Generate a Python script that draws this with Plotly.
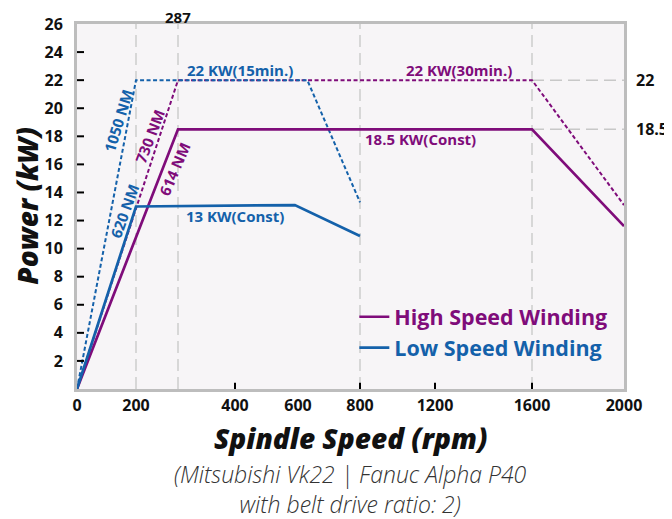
import numpy as np
import plotly.graph_objects as go

# ---------------- data ----------------
HIGH_CONST_RPM = [0, 287, 1600, 2000]
HIGH_CONST_KW = [0, 18.5, 18.5, 11.6]
HIGH_30MIN_RPM = [0, 287, 1600, 2000]
HIGH_30MIN_KW = [0, 22, 22, 13.1]
LOW_CONST_RPM = [0, 200, 590, 800]
LOW_CONST_KW = [0, 13, 13.1, 10.9]
LOW_15MIN_RPM = [0, 200, 630, 800]
LOW_15MIN_KW = [0, 22, 22, 13.3]

X_TICK_LABELS = [0, 200, 400, 600, 800, 1200, 1600, 2000]
X_TICK_MARKS = [400, 800, 1200, 1600]
X_GRID = [200, 287, 800, 1600]
Y_TICK_LABELS = [2, 4, 6, 8, 10, 12, 14, 16, 18, 20, 22, 24, 26]
Y_TICK_MARKS = [2, 4, 6, 8, 10, 12, 14, 16, 18, 20, 22, 24]
REF_LEVELS = [22, 18.5]

# the source chart uses a non-uniform speed scale
SCALE_RPM = [0, 200, 287, 400, 600, 800, 1200, 1600, 2000]
SCALE_POS = [0, 59, 101, 158, 221, 283, 358, 455, 547]


def sx(v):
    return np.interp(v, SCALE_RPM, SCALE_POS)


PURPLE = "#7F0C7A"
BLUE = "#1461AA"
FONT = "Open Sans"

fig = go.Figure()

fig.add_trace(go.Scatter(x=sx(HIGH_30MIN_RPM), y=HIGH_30MIN_KW, mode="lines",
                         line=dict(color=PURPLE, width=2, dash="4px,2.5px"),
                         showlegend=False, hoverinfo="skip"))
fig.add_trace(go.Scatter(x=sx(LOW_15MIN_RPM), y=LOW_15MIN_KW, mode="lines",
                         line=dict(color=BLUE, width=2, dash="4px,2.5px"),
                         showlegend=False, hoverinfo="skip"))
fig.add_trace(go.Scatter(x=sx(HIGH_CONST_RPM), y=HIGH_CONST_KW, mode="lines",
                         line=dict(color=PURPLE, width=2.7),
                         name=f"<span style='color:{PURPLE}'>High Speed Winding</span>"))
fig.add_trace(go.Scatter(x=sx(LOW_CONST_RPM), y=LOW_CONST_KW, mode="lines",
                         line=dict(color=BLUE, width=2.7),
                         name=f"<span style='color:{BLUE}'>Low Speed Winding</span>"))

shapes = []
for g in X_GRID:
    shapes.append(dict(type="line", xref="x", yref="y", x0=sx(g), x1=sx(g), y0=0, y1=26,
                       line=dict(color="#CDCDCD", width=1.5, dash="12px,6px"), layer="below"))
for lv in REF_LEVELS:
    shapes.append(dict(type="line", xref="x", yref="y", x0=sx(1600), x1=sx(2000), y0=lv, y1=lv,
                       line=dict(color="#C8C8C8", width=1.5, dash="12px,6px"), layer="below"))
for t in X_TICK_MARKS:
    shapes.append(dict(type="line", xref="x", yref="y", x0=sx(t), x1=sx(t), y0=0, y1=0.45,
                       line=dict(color="black", width=2)))
for t in Y_TICK_MARKS:
    shapes.append(dict(type="line", xref="x", yref="y", x0=0, x1=7, y0=t, y1=t,
                       line=dict(color="black", width=2)))

ann = []
bold = dict(family=FONT, weight="bold")


def label(text, rpm, kw, color, size=15, angle=0):
    ann.append(dict(text=text, x=sx(rpm), y=kw, xref="x", yref="y", showarrow=False,
                    xanchor="center", yanchor="middle",
                    textangle=angle, font=dict(size=size, color=color, **bold)))


label("22 KW(15min.)", 416, 22.75, BLUE)
label("22 KW(30min.)", 1299, 22.75, PURPLE)
label("18.5 KW(Const)", 1120, 17.8, PURPLE)
label("13 KW(Const)", 400, 12.35, BLUE)
label("1050 NM", 139, 19.1, BLUE, angle=-73)
label("730 NM", 229, 18.0, PURPLE, angle=-69)
label("620 NM", 160, 12.7, BLUE, angle=-70)
label("614 NM", 279, 15.7, PURPLE, angle=-67)

ann.append(dict(text="287", x=sx(287), y=1, xref="x", yref="paper", xanchor="center",
                yanchor="middle", yshift=7, showarrow=False,
                font=dict(size=15, color="#111", **bold)))
for lv in REF_LEVELS:
    ann.append(dict(text=f"{lv:g}", x=1, y=lv, xref="paper", yref="y", xanchor="left",
                    xshift=10, showarrow=False, font=dict(size=16, color="#111", **bold)))

ann.append(dict(text="Spindle Speed (rpm)", x=0.5, y=-0.134, xref="paper", yref="paper",
                showarrow=False, xanchor="center", yanchor="middle",
                font=dict(family=FONT, size=28, color="#111", weight=800, style="italic")))
SUBTITLE = "(Mitsubishi Vk22 | Fanuc Alpha P40<br>with belt drive ratio: 2)"
ann.append(dict(text=SUBTITLE, x=0.5, y=-0.274, xref="paper", yref="paper",
                xanchor="center", yanchor="middle", showarrow=False,
                font=dict(family=FONT, size=23, color="#333", weight=300, style="italic")))
ann.append(dict(text="Power (kW)", x=-0.091, y=0.503, xref="paper", yref="paper",
                showarrow=False, textangle=-90, xanchor="center", yanchor="middle",
                font=dict(family=FONT, size=28, color="#111", weight=800, style="italic")))

# page body has an 8px margin: size the figure so the visible window matches
fig.update_layout(
    template="none",
    width=664, height=511,
    margin=dict(l=69, r=48, t=16, b=130, pad=0, autoexpand=False),
    paper_bgcolor="white",
    plot_bgcolor="#F7F5F7",
    font=dict(family=FONT, color="#111"),
    shapes=shapes,
    annotations=ann,
    showlegend=True,
    legend=dict(x=0.507, y=0.254, xanchor="left", yanchor="top",
                bgcolor="rgba(0,0,0,0)", font=dict(size=21.5, family=FONT, weight="bold"),
                tracegroupgap=0, itemwidth=30),
    xaxis=dict(range=[0, 547], tickvals=sx(X_TICK_LABELS), ticktext=[str(v) for v in X_TICK_LABELS],
               ticks="", showgrid=False, zeroline=False, showline=True, linecolor="#BDBDBD",
               linewidth=3, mirror=True, ticklabelstandoff=0, automargin=False,
               tickfont=dict(size=16, color="#111", family=FONT, weight="bold")),
    yaxis=dict(range=[0, 26], tickvals=Y_TICK_LABELS, ticks="", showgrid=False,
               zeroline=False, showline=True, linecolor="#BDBDBD", linewidth=3, mirror=True,
               ticklabelstandoff=8, automargin=False,
               tickfont=dict(size=16, color="#111", family=FONT, weight="bold")),
)

fig.write_html("out.html")
